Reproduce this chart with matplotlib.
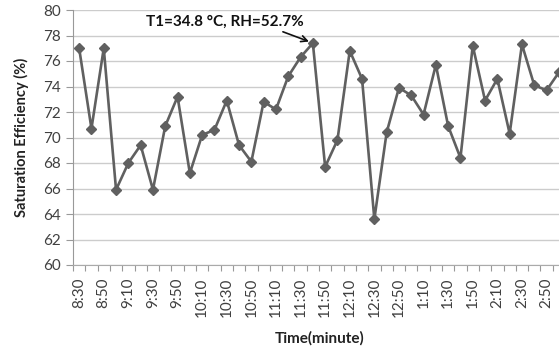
import matplotlib
matplotlib.use("Agg")
import matplotlib.pyplot as plt
import numpy as np

times = ["8:30", "8:40", "8:50", "9:00", "9:10", "9:20", "9:30", "9:40", "9:50", "10:00",
         "10:10", "10:20", "10:30", "10:40", "10:50", "11:00", "11:10", "11:20", "11:30", "11:40",
         "11:50", "12:00", "12:10", "12:20", "12:30", "12:40", "12:50", "1:00", "1:10", "1:20",
         "1:30", "1:40", "1:50", "2:00", "2:10", "2:20", "2:30", "2:40", "2:50", "3:00"]
efficiency = [77.0, 70.7, 77.0, 65.9, 68.0, 69.4, 65.9, 70.9, 73.2, 67.2,
              70.2, 70.6, 72.9, 69.4, 68.1, 72.8, 72.2, 74.8, 76.3, 77.4,
              67.7, 69.8, 76.8, 74.6, 63.6, 70.4, 73.9, 73.3, 71.8, 75.7,
              70.9, 68.4, 77.2, 72.9, 74.6, 70.3, 77.3, 74.1, 73.7, 75.1]
tick_labels = times[::2]
yticks = [60, 62, 64, 66, 68, 70, 72, 74, 76, 78, 80]
annot_text = "T1=34.8 \u00b0C, RH=52.7%"
annot_index = 19

plt.rcParams['font.family'] = ['Lato', 'DejaVu Sans']

fig = plt.figure(figsize=(5.59, 3.51), dpi=100)
W, H = 559, 351
x0, x1 = 73, 565
ytop, ybot = 10, 265
ax = fig.add_axes([x0 / W, (H - ybot) / H, (x1 - x0) / W, (ybot - ytop) / H])

x = np.arange(len(times))
ax.plot(x, efficiency, color="#606060", lw=1.9, marker="D", ms=5.5,
        markerfacecolor="#606060", markeredgecolor="#606060", zorder=3, clip_on=False)

ax.set_xlim(-0.5, len(times) - 0.5)
ax.set_ylim(60, 80)
ax.set_yticks(yticks)
ax.set_yticklabels([str(v) for v in yticks], fontsize=11, color="#404040")
ax.yaxis.grid(True, color="#cccccc", lw=1.0)
ax.set_axisbelow(True)

ax.set_xticks(x[::2])
ax.set_xticklabels(tick_labels, rotation=90, fontsize=11, color="#404040")
ax.set_xticks(np.arange(-0.5, len(times)), minor=True)
ax.tick_params(axis="x", which="major", length=0, pad=9)
ax.tick_params(axis="x", which="minor", length=4, color="#999999", width=0.8)
ax.tick_params(axis="y", length=5, color="#999999", width=0.8, pad=4)

for s in ["top", "right"]:
    ax.spines[s].set_visible(False)
ax.spines["left"].set_color("#999999")
ax.spines["bottom"].set_color("#aaaaaa")

fig.text(21 / W, 1 - 137 / H, "Saturation Efficiency (%)", rotation=90, fontsize=10.5,
         fontweight="bold", ha="center", va="center", color="#222222")
fig.text(320 / W, 1 - 338 / H, "Time(minute)", fontsize=11, fontweight="bold",
         ha="center", va="center", color="#222222")

ax.annotate(annot_text, xy=(annot_index - 0.1, efficiency[annot_index] + 0.05),
            xytext=(225 / W, 1 - 22 / H), textcoords="figure fraction",
            fontsize=11, fontweight="bold", ha="center", va="center", color="#111111",
            arrowprops=dict(arrowstyle="->", color="#111111", lw=1.2,
                            shrinkA=0, shrinkB=2, relpos=(0.82, 0.0)))

fig.savefig("out.png", dpi=100)
